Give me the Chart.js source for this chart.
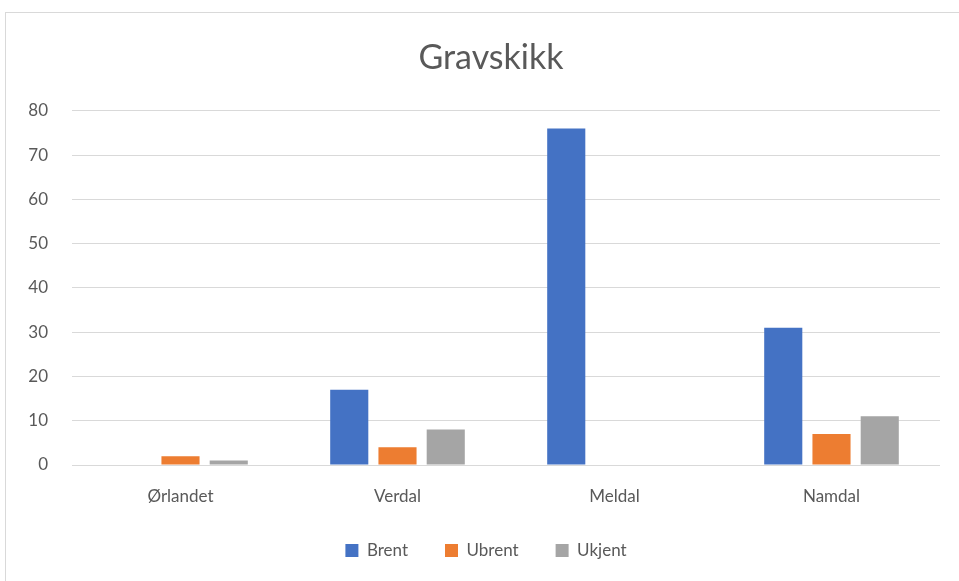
<!DOCTYPE html>
<html>
<head>
<meta charset="utf-8">
<script src="https://cdn.jsdelivr.net/npm/chart.js@4"></script>
<style>
  html, body { margin: 0; padding: 0; background: #fff; }
  #wrap { position: relative; width: 959px; height: 581px; overflow: hidden; }
  #frame { position: absolute; left: 5px; top: 12px; width: 1000px; height: 700px; border: 1px solid #d9d9d9; box-sizing: border-box; }
  canvas { position: absolute; left: 0; top: 0; }
</style>
</head>
<body>
<div id="wrap">
  <div id="frame"></div>
  <canvas id="chart" width="959" height="581"></canvas>
</div>
<script>
// data
const categories = ['Ørlandet', 'Verdal', 'Meldal', 'Namdal'];
const brent = [0, 17, 76, 31];
const ubrent = [2, 4, 0, 7];
const ukjent = [1, 8, 0, 11];
const yTicks = [0, 10, 20, 30, 40, 50, 60, 70, 80];

const textColor = '#595959';
const fontName = 'Lato, "Open Sans", sans-serif';

let ctx = document.getElementById('chart');

let data = {
    labels: categories,
    datasets: [
        { label: 'Brent', data: brent, backgroundColor: '#4472C4' },
        { label: 'Ubrent', data: ubrent, backgroundColor: '#ED7D31' },
        { label: 'Ukjent', data: ukjent, backgroundColor: '#A5A5A5' }
    ]
};

// excel centres title and legend a bit right of the plot centre
const shiftBlocks = {
    id: 'shiftBlocks',
    afterLayout(chart) {
        chart.titleBlock.left += 21;
        chart.titleBlock.right += 21;
        chart.legend.left += 16;
        chart.legend.right += 16;
    }
};

let options = {
    responsive: false,
    devicePixelRatio: 1,
    animation: false,
    layout: { padding: { left: 0, right: 19, top: 0, bottom: 12 } },
    datasets: { bar: { categoryPercentage: 0.667, barPercentage: 0.79 } },
    plugins: {
        title: {
            display: true,
            text: 'Gravskikk',
            color: textColor,
            font: { family: fontName, size: 34, weight: 'normal' },
            padding: { top: 38, bottom: 32 }
        },
        legend: {
            position: 'bottom',
            labels: {
                color: textColor,
                font: { family: fontName, size: 17 },
                boxWidth: 13,
                boxHeight: 13,
                padding: 37
            }
        },
        tooltip: { enabled: false }
    },
    scales: {
        x: {
            grid: { display: false, drawTicks: false },
            border: { display: false },
            ticks: { color: textColor, font: { family: fontName, size: 17 }, padding: 21 },
            afterFit(scale) { scale.height = 40; }
        },
        y: {
            min: 0,
            max: 80,
            afterBuildTicks(scale) { scale.ticks = yTicks.map(v => ({ value: v })); },
            grid: { color: '#d9d9d9', lineWidth: 1, drawTicks: false },
            border: { display: false },
            ticks: { color: textColor, font: { family: fontName, size: 17 }, padding: 24 },
            afterFit(scale) { scale.width = 72; }
        }
    }
};

new Chart(ctx, { type: 'bar', data: data, options: options, plugins: [shiftBlocks] });
</script>
</body>
</html>
